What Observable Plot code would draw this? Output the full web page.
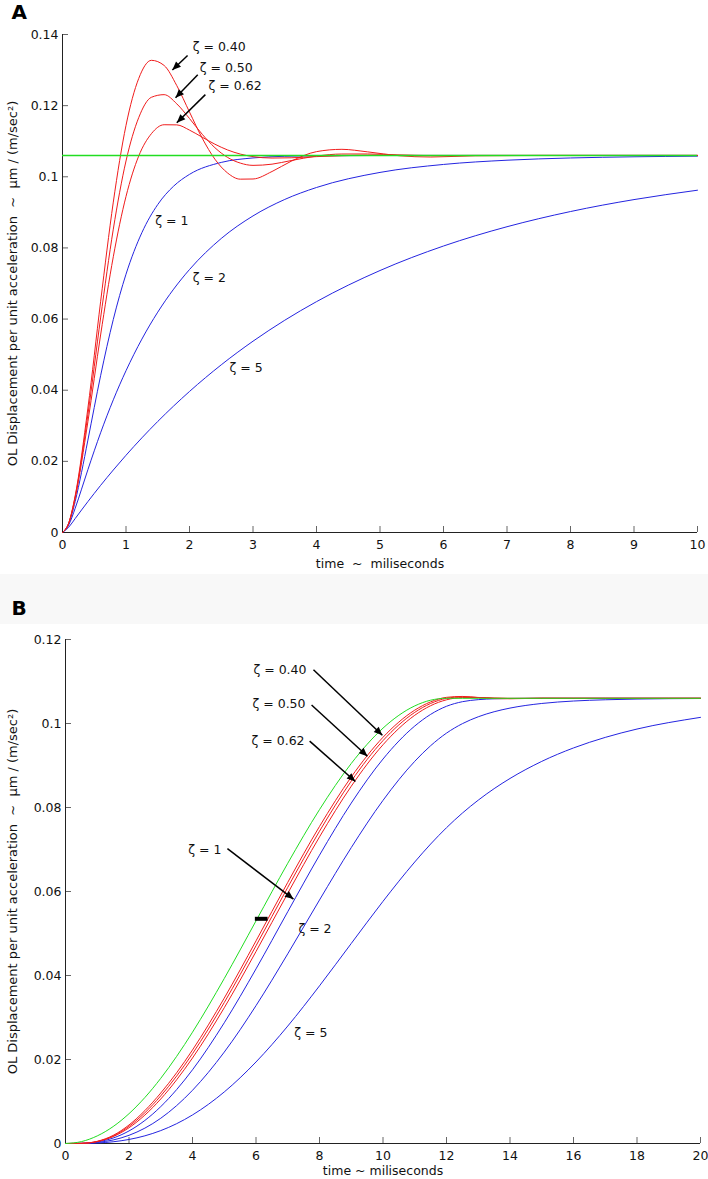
<!DOCTYPE html>
<html><head><meta charset="utf-8">
<script src="https://cdn.jsdelivr.net/npm/d3@7"></script>
<script src="https://cdn.jsdelivr.net/npm/@observablehq/plot@0.6"></script>
<style>
body{margin:0;background:#fff;}
#wrap{position:relative;width:708px;height:1179px;background:#fff;overflow:hidden;}
#band{position:absolute;left:0;top:574px;width:708px;height:50px;background:#f8f8f8;}
#a{position:absolute;left:0;top:0;}
#b{position:absolute;left:0;top:575px;}
</style></head><body>
<div id="wrap"><div id="band"></div><div id="a"></div><div id="b"></div></div>
<script>
// ---------- Panel A data (time in ms, displacement) ----------
const xTicksA = [0,1,2,3,4,5,6,7,8,9,10];
const yTicksA = [0,0.02,0.04,0.06,0.08,0.1,0.12,0.14];
const steadyA = 0.106;
const tRedA = [0,0.1,0.2,0.4,0.6,0.8,1.0,1.2,1.4,1.6,1.8,2.0,2.2,2.4,2.6,2.8,3.0,3.3,3.6,4.0,4.4,4.8,5.3,5.8,6.5,7.5,10];
const z040A = [0,0.00278,0.01034,0.03498,0.06487,0.09288,0.11444,0.12762,0.13274,0.13130,0.12562,0.11820,0.11087,0.10495,0.10106,0.09933,0.09938,0.10149,0.10436,0.10707,0.10772,0.10702,0.10592,0.10556,0.10590,0.1060,0.1060];
const z050A = [0,0.00274,0.01005,0.03315,0.06032,0.08527,0.10444,0.11662,0.12235,0.12309,0.12050,0.11638,0.11196,0.10818,0.10544,0.10385,0.10321,0.10355,0.10456,0.10582,0.10640,0.10641,0.10614,0.10595,0.1060,0.1060,0.1060];
const z062A = [0,0.00269,0.00970,0.03115,0.05553,0.07752,0.09447,0.10582,0.11212,0.11463,0.11459,0.11312,0.11113,0.10916,0.10754,0.10638,0.10567,0.10527,0.10534,0.10567,0.10593,0.10605,0.10603,0.1060,0.1060,0.1060,0.1060];
const tBlueA = [0,0.1,0.2,0.3,0.4,0.6,0.8,1.0,1.25,1.5,1.75,2.0,2.5,3.0,3.5,4.0,5,6,7,8,9,10];
const z1A = [0,0.00255,0.00874,0.01692,0.02598,0.04407,0.05990,0.07261,0.08429,0.09220,0.09737,0.10068,0.10404,0.10530,0.10576,0.1059,0.1060,0.1060,0.1060,0.1060,0.1060,0.1060];
const z2A = [0,0.00221,0.00682,0.01219,0.01766,0.02803,0.03730,0.04548,0.05437,0.06195,0.06841,0.07393,0.08266,0.08900,0.09363,0.09699,0.10123,0.10347,0.10466,0.10529,0.10562,0.10580];
const z5A = [0,0.00155,0.00392,0.00633,0.00869,0.01324,0.01757,0.02171,0.02661,0.03122,0.03556,0.03965,0.04714,0.05378,0.05967,0.06490,0.07365,0.08054,0.08596,0.09023,0.09359,0.09623];
const labelsA = [
  {t:2.05, v:0.1366, text:"ζ = 0.40"},
  {t:2.16, v:0.1307, text:"ζ = 0.50"},
  {t:2.30, v:0.1254, text:"ζ = 0.62"},
  {t:1.46, v:0.0876, text:"ζ = 1"},
  {t:2.05, v:0.0716, text:"ζ = 2"},
  {t:2.63, v:0.0462, text:"ζ = 5"}
];
const arrowsA = [
  {t1:1.97, v1:0.1341, t2:1.73, v2:0.1300},
  {t1:2.13, v1:0.1287, t2:1.78, v2:0.1222},
  {t1:2.25, v1:0.1231, t2:1.80, v2:0.1152}
];

// ---------- Panel B data ----------
const xTicksB = [0,2,4,6,8,10,12,14,16,18,20];
const yTicksB = [0,0.02,0.04,0.06,0.08,0.1,0.12];
const tB = [0,0.5,1,1.5,2,2.5,3,3.5,4,5,6,7,8,9,10,11,11.5,12,12.5,13,13.5,14,15,16,17,18,20];
const greenB = [0,0.00045,0.00181,0.00403,0.0071,0.01095,0.01552,0.02074,0.0265,0.03928,0.053,0.06672,0.0795,0.09048,0.0989,0.10419,0.10555,0.106,0.106,0.106,0.106,0.106,0.106,0.106,0.106,0.106,0.106];
const z040B = [0,0.00004,0.00052,0.00193,0.00441,0.00784,0.01202,0.01684,0.02227,0.03462,0.04824,0.06218,0.07549,0.08727,0.09672,0.10318,0.10515,0.10623,0.10644,0.10617,0.10593,0.10589,0.10602,0.106,0.106,0.106,0.106];
const z050B = [0,0.00004,0.00048,0.00178,0.00409,0.00732,0.01134,0.01605,0.02138,0.03356,0.04707,0.06099,0.07436,0.08628,0.09593,0.10265,0.10477,0.10599,0.10635,0.1062,0.10601,0.10594,0.106,0.106,0.106,0.106,0.106];
const z062B = [0,0.00004,0.00045,0.00164,0.00375,0.00677,0.0106,0.01516,0.02036,0.03232,0.0457,0.05957,0.0730,0.08506,0.09494,0.10196,0.10424,0.10564,0.10618,0.10619,0.10607,0.106,0.106,0.106,0.106,0.106,0.106];
const z1B = [0,0.00003,0.00036,0.0013,0.00299,0.00549,0.00878,0.01283,0.01755,0.02874,0.04157,0.05519,0.06865,0.08105,0.09154,0.0994,0.10217,0.1041,0.10519,0.10568,0.10588,0.10596,0.106,0.106,0.106,0.106,0.106];
const z2B = [0,0.00003,0.00024,0.00084,0.00195,0.00366,0.00601,0.00902,0.01267,0.02176,0.03282,0.04516,0.05798,0.07045,0.0817,0.091,0.09471,0.09771,0.09996,0.1016,0.1028,0.10367,0.10477,0.10535,0.10565,0.10582,0.10595];
const z5B = [0,0.00001,0.00012,0.00041,0.00096,0.00183,0.00307,0.00472,0.0068,0.01227,0.01941,0.02796,0.03754,0.04763,0.05766,0.06703,0.0713,0.07519,0.07867,0.08175,0.08449,0.08691,0.09098,0.09418,0.09669,0.09868,0.10146];
const labelsB = [
  {t:7.59, v:0.1128, text:"ζ = 0.40"},
  {t:7.56, v:0.1047, text:"ζ = 0.50"},
  {t:7.53, v:0.0958, text:"ζ = 0.62"},
  {t:4.91, v:0.0699, text:"ζ = 1"},
  {t:8.38, v:0.0510, text:"ζ = 2"},
  {t:8.25, v:0.0264, text:"ζ = 5"}
];
const arrowsB = [
  {t1:7.81, v1:0.1128, t2:9.98, v2:0.0972},
  {t1:7.75, v1:0.1044, t2:9.51, v2:0.0922},
  {t1:7.69, v1:0.0958, t2:9.13, v2:0.0862},
  {t1:5.10, v1:0.0702, t2:7.18, v2:0.0582}
];
const markerB = [{t1:5.98, t2:6.38, v:0.0535}];

const yTitle = "OL Displacement per unit acceleration  ~  μm / (m/sec²)";
const xTitleA = "time  ~  miliseconds";
const xTitleB = "time ~ miliseconds";

// ---------- helpers ----------
const FONT = '"DejaVu Sans", "Liberation Sans", Arial, sans-serif';
const RED = "#f01c1c", BLUE = "#2424e0", GREEN = "#22dd22";
const rows = (ts, vs) => ts.map((t, i) => ({t, v: vs[i]}));
const fmt = d => String(+d.toFixed(2));
const curve = (ts, vs, color, w = 1) => Plot.line(rows(ts, vs), {x: "t", y: "v", stroke: color, strokeWidth: w, curve: "monotone-x"});
// filled arrowhead with its tip at the origin, pointing up
const headSymbol = {draw(ctx) { ctx.moveTo(0, 0); ctx.lineTo(-3.6, 8.5); ctx.lineTo(3.6, 8.5); ctx.closePath(); }};

function panel({letter, width, height, margins, xDom, yDom, xTicks, yTicks, xTitle, xTitleDy, letterDy, curves, labels, arrows, extra = [], labelAnchor}) {
  const [mt, mr, mb, ml] = margins;
  const kx = (width - ml - mr) / (xDom[1] - xDom[0]);
  const ky = (height - mt - mb) / (yDom[1] - yDom[0]);
  const angle = d => Math.atan2((d.t2 - d.t1) * kx, (d.v2 - d.v1) * ky) * 180 / Math.PI;
  return Plot.plot({
    width, height,
    marginTop: mt, marginRight: mr, marginBottom: mb, marginLeft: ml,
    style: {background: "transparent", fontFamily: FONT, color: "#111", overflow: "visible"},
    x: {domain: xDom},
    y: {domain: yDom},
    marks: [
      Plot.axisX({ticks: xTicks, tickSize: -6, tickPadding: 14, tickFormat: d => String(d), fontSize: 12.5, stroke: "#666", fill: "#111"}),
      Plot.axisY({ticks: yTicks, tickSize: -6, tickPadding: 10, tickFormat: fmt, fontSize: 12.5, stroke: "#666", fill: "#111"}),
      Plot.ruleY([yDom[0]], {stroke: "#222", strokeWidth: 1}),
      Plot.ruleX([xDom[0]], {stroke: "#222", strokeWidth: 1}),
      ...curves,
      ...extra,
      Plot.link(arrows, {x1: "t1", y1: "v1", x2: "t2", y2: "v2", stroke: "#000", strokeWidth: 1.5}),
      Plot.dot(arrows, {x: "t2", y: "v2", symbol: headSymbol, r: 4, fill: "#000", stroke: "none", rotate: angle}),
      Plot.text(labels, {x: "t", y: "v", text: "text", textAnchor: labelAnchor, fontSize: 12.5, fill: "#111"}),
      Plot.text([xTitle], {frameAnchor: "bottom", dy: xTitleDy, lineAnchor: "middle", textAnchor: "middle", text: d => d, fontSize: 12.5, fill: "#111"}),
      Plot.text([yTitle], {frameAnchor: "left", dx: -ml + 12, rotate: -90, lineAnchor: "middle", textAnchor: "middle", text: d => d, fontSize: 13, fill: "#111"}),
      Plot.text([letter], {frameAnchor: "top-left", dx: -ml + 11, dy: letterDy, textAnchor: "start", lineAnchor: "middle", text: d => d, fontSize: 20, fontWeight: "bold", fill: "#000"})
    ]
  });
}

const plotA = panel({
  letter: "A", width: 708, height: 575, margins: [34, 11, 43, 62],
  xDom: [0, 10], yDom: [0, 0.14], xTicks: xTicksA, yTicks: yTicksA, xTitle: xTitleA, xTitleDy: 31, letterDy: -22,
  curves: [
    curve(tBlueA, z5A, BLUE), curve(tBlueA, z2A, BLUE), curve(tBlueA, z1A, BLUE),
    curve(tRedA, z062A, RED), curve(tRedA, z050A, RED), curve(tRedA, z040A, RED),
    Plot.ruleY([steadyA], {stroke: GREEN, strokeWidth: 1.4})
  ],
  labels: labelsA, arrows: arrowsA, labelAnchor: "start"
});

const plotB = panel({
  letter: "B", width: 708, height: 604, margins: [64, 8, 36, 65],
  xDom: [0, 20], yDom: [0, 0.12], xTicks: xTicksB, yTicks: yTicksB, xTitle: xTitleB, xTitleDy: 27, letterDy: -31,
  curves: [
    curve(tB, z5B, BLUE), curve(tB, z2B, BLUE), curve(tB, z1B, BLUE),
    curve(tB, z062B, RED), curve(tB, z050B, RED), curve(tB, z040B, RED),
    curve(tB, greenB, GREEN)
  ],
  extra: [Plot.ruleY(markerB, {y: "v", x1: "t1", x2: "t2", stroke: "#000", strokeWidth: 4})],
  labels: labelsB, arrows: arrowsB, labelAnchor: "end"
});

document.getElementById("a").appendChild(plotA);
document.getElementById("b").appendChild(plotB);
</script>
</body></html>
